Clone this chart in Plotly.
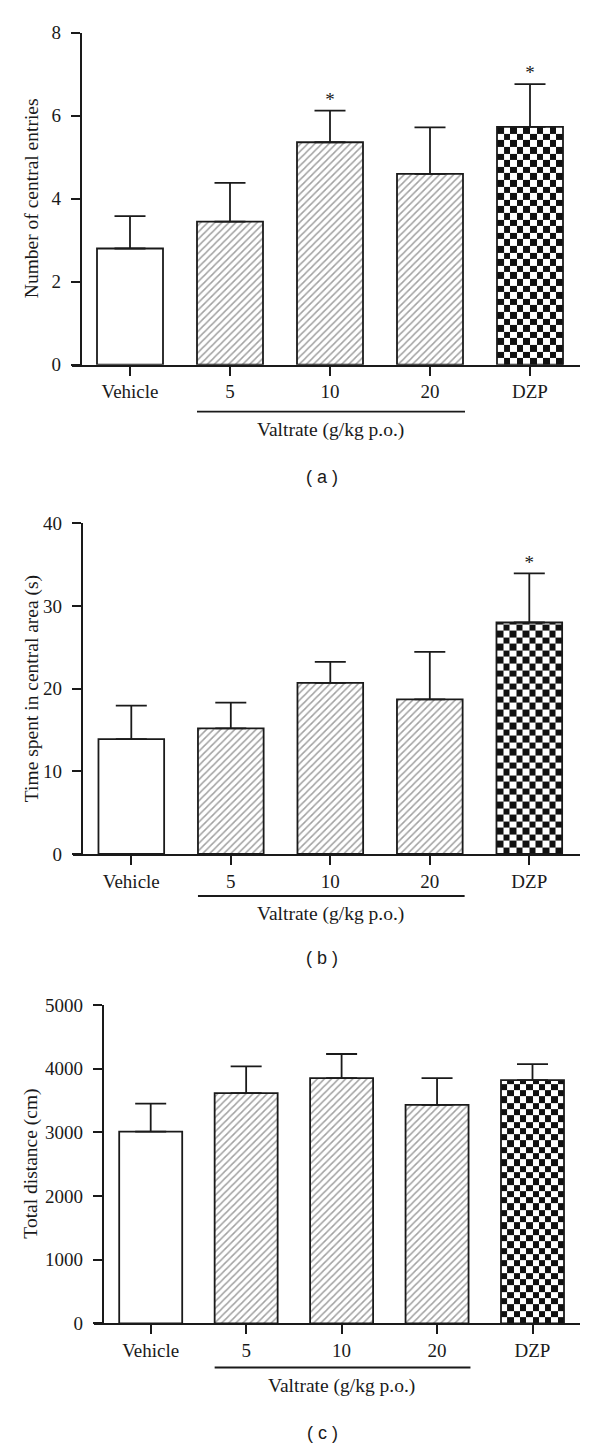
import numpy as np
import plotly.graph_objects as go

W, H = 600, 1448
OFF = 8  # the page body margin shifts the figure by this many pixels

groups = ["Vehicle", "5", "10", "20", "DZP"]
fills = ["plain", "hatch", "hatch", "hatch", "checker"]

# panel (a) number of central entries
entries_mean = [2.80, 3.45, 5.36, 4.60, 5.73]
entries_sem = [0.78, 0.93, 0.76, 1.12, 1.03]
entries_sig = ["", "", "*", "", "*"]

# panel (b) time spent in central area (s)
time_mean = [13.9, 15.2, 20.7, 18.7, 28.0]
time_sem = [4.05, 3.10, 2.55, 5.75, 5.95]
time_sig = ["", "", "", "", "*"]

# panel (c) total distance (cm)
dist_mean = [3010, 3615, 3850, 3430, 3820]
dist_sem = [440, 420, 380, 420, 250]
dist_sig = ["", "", "", "", ""]

FONT = "Liberation Serif"
INK = "#1a1a1a"
BAR_W = 0.66


def px_x(v):
    return (v - OFF) / W


def px_y(v):
    return 1 - (v - OFF) / H


# pixel layout of each panel (screen coords)
panels = [
    dict(mean=entries_mean, sem=entries_sem, sig=entries_sig, title="Number of central entries",
         ymax=8, dtick=2, yaxis_x=80.7, top=32.7, bottom=364.7, left=72.3, right=580,
         c0=130, step=100, valt_y=411.7, valt_txt=430, label="( a )", label_y=477),
    dict(mean=time_mean, sem=time_sem, sig=time_sig, title="Time spent in central area (s)",
         ymax=40, dtick=10, yaxis_x=81.7, top=523.3, bottom=854, left=73.3, right=580,
         c0=131.3, step=99.5, valt_y=896, valt_txt=913.5, label="( b )", label_y=958),
    dict(mean=dist_mean, sem=dist_sem, sig=dist_sig, title="Total distance (cm)",
         ymax=5000, dtick=1000, yaxis_x=102.7, top=1005, bottom=1323.3, left=94.3, right=580,
         c0=150.7, step=95.45, valt_y=1367.5, valt_txt=1386, label="( c )", label_y=1433),
]

fig = go.Figure()
layout = dict(width=W, height=H, margin=dict(l=0, r=0, t=0, b=0, autoexpand=False),
              paper_bgcolor="white", plot_bgcolor="rgba(0,0,0,0)", showlegend=False)
shapes, annotations = [], []

for k, p in enumerate(panels):
    sfx = "" if k == 0 else str(k + 1)
    xa, ya = "x" + sfx, "y" + sfx
    xr = [(p["left"] - p["c0"]) / p["step"], (p["right"] - p["c0"]) / p["step"]]
    px_per_unit = (p["bottom"] - p["top"]) / p["ymax"]
    xs = list(range(len(groups)))

    # checkerboard texture for the DZP bar
    for i, f in enumerate(fills):
        if f != "checker":
            continue
        ncol = 10
        cell_px = BAR_W * p["step"] / ncol
        cell = cell_px / px_per_unit
        nrow = int(np.ceil(p["mean"][i] / cell))
        xe = np.linspace(i - BAR_W / 2, i + BAR_W / 2, ncol + 1)
        ye = np.minimum(np.arange(nrow + 1) * cell, p["mean"][i])
        z = (np.add.outer(np.arange(nrow), np.arange(ncol)) % 2).astype(float)
        fig.add_trace(go.Heatmap(x=xe, y=ye, z=z, xaxis=xa, yaxis=ya,
                                 colorscale=[[0, "white"], [1, "#111111"]],
                                 showscale=False, hoverinfo="skip", zmin=0, zmax=1))

    shapes_pat = [("" if f != "hatch" else "/") for f in fills]
    fig.add_trace(go.Bar(
        x=xs, y=p["mean"], width=BAR_W, xaxis=xa, yaxis=ya,
        marker=dict(color=["white" if f != "checker" else "rgba(0,0,0,0)" for f in fills],
                    line=dict(color=INK, width=1.8),
                    pattern=dict(shape=shapes_pat, fillmode="overlay", fgcolor="#333333",
                                 size=5, solidity=0.3)),
        error_y=dict(type="data", array=p["sem"], arrayminus=[0] * len(xs), symmetric=False,
                     color=INK, thickness=1.8, width=15.5),
    ))

    tops = [m + s for m, s in zip(p["mean"], p["sem"])]
    fig.add_trace(go.Scatter(x=xs, y=tops, text=p["sig"], mode="text", textposition="top center",
                             textfont=dict(family=FONT, size=19, color=INK),
                             xaxis=xa, yaxis=ya, hoverinfo="skip"))

    layout["xaxis" + sfx] = dict(
        domain=[px_x(p["left"]), px_x(p["right"])], range=xr, anchor=ya, automargin=False,
        showline=True, linecolor=INK, linewidth=1.8, showgrid=False, zeroline=False,
        tickmode="array", tickvals=xs, ticktext=groups, ticks="outside", ticklen=9,
        tickwidth=1.8, tickcolor=INK,
        tickfont=dict(family=FONT, size=19, color=INK), fixedrange=True)
    layout["yaxis" + sfx] = dict(
        domain=[px_y(p["bottom"]), px_y(p["top"])], range=[0, p["ymax"]],
        anchor="free", position=px_x(p["yaxis_x"]), automargin=False,
        showline=True, linecolor=INK, linewidth=1.8, showgrid=False, zeroline=False,
        tick0=0, dtick=p["dtick"], ticks="outside", ticklen=9, tickwidth=1.8, tickcolor=INK,
        ticklabelstandoff=6, tickfont=dict(family=FONT, size=19, color=INK), fixedrange=True)

    # y axis title
    annotations.append(dict(text=p["title"], textangle=-90, xref="paper", yref="paper",
                            x=px_x(31.5), y=px_y((p["top"] + p["bottom"]) / 2),
                            xanchor="center", yanchor="middle", showarrow=False,
                            font=dict(family=FONT, size=19.5, color=INK)))
    # Valtrate bracket line under doses
    shapes.append(dict(type="line", xref=xa, yref="paper", x0=1 - BAR_W / 2, x1=3 + BAR_W / 2 + 0.02,
                       y0=px_y(p["valt_y"]), y1=px_y(p["valt_y"]),
                       line=dict(color=INK, width=1.8)))
    annotations.append(dict(text="Valtrate (g/kg p.o.)", xref=xa, yref="paper",
                            x=2, y=px_y(p["valt_txt"]), xanchor="center", yanchor="middle",
                            showarrow=False, font=dict(family=FONT, size=19.5, color=INK)))
    annotations.append(dict(text=p["label"], xref="paper", yref="paper",
                            x=px_x(322), y=px_y(p["label_y"]), xanchor="center", yanchor="middle",
                            showarrow=False, font=dict(family="Liberation Sans", size=18, color=INK)))

layout["shapes"] = shapes
layout["annotations"] = annotations
fig.update_layout(**layout)
fig.write_html("out.html")
